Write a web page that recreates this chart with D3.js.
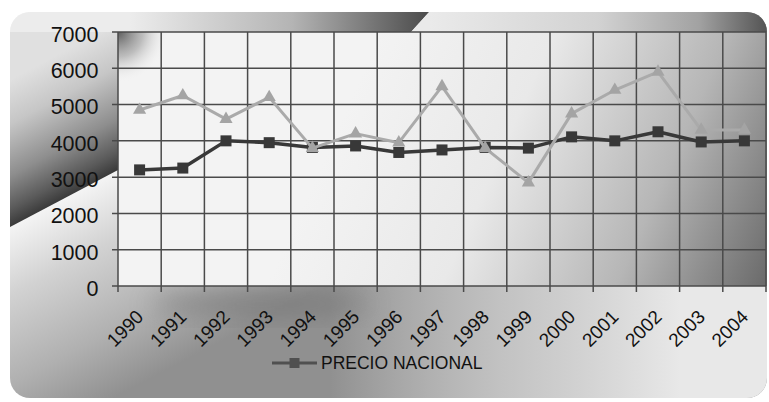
<!DOCTYPE html>
<html>
<head>
<meta charset="utf-8">
<script src="https://cdn.jsdelivr.net/npm/d3@7"></script>
<style>
  html, body { margin: 0; padding: 0; background: #fff; }
  svg { display: block; }
</style>
</head>
<body>
<script>
// Data
const years = ["1990", "1991", "1992", "1993", "1994", "1995", "1996", "1997",
  "1998", "1999", "2000", "2001", "2002", "2003", "2004"];
const precioNacional = [3200, 3250, 4000, 3950, 3820, 3860, 3680, 3750,
  3820, 3800, 4110, 4000, 4250, 3970, 4000];
const otraSerie = [4850, 5250, 4600, 5200, 3800, 4200, 3950, 5500,
  3800, 2850, 4750, 5400, 5900, 4300, 4300];
const yTicks = [0, 1000, 2000, 3000, 4000, 5000, 6000, 7000];
const legendLabel = "PRECIO NACIONAL";

const width = 769;
const height = 402;
const plot = { left: 118, right: 766, top: 32, bottom: 286 };
const frame = { x: 10, y: 12, w: 757, h: 386 };
const font = "'Liberation Sans', Arial, sans-serif";

const xScale = d3.scaleBand().domain(years).range([plot.left, plot.right]).padding(0);
const yScale = d3.scaleLinear().domain([0, 7000]).range([plot.bottom, plot.top]);

const svg = d3.select("body").append("svg")
  .attr("width", width)
  .attr("height", height);

const defs = svg.append("defs");

// helper for gradients: stops are [offset, colour, opacity]
function grad(id, x1, y1, x2, y2, stops) {
  defs.append("linearGradient").attr("id", id)
    .attr("gradientUnits", "userSpaceOnUse")
    .attr("x1", x1).attr("y1", y1).attr("x2", x2).attr("y2", y2)
    .selectAll("stop").data(stops).join("stop")
    .attr("offset", (d) => d[0]).attr("stop-color", (d) => d[1])
    .attr("stop-opacity", (d) => (d[2] === undefined ? 1 : d[2]));
}

defs.append("clipPath").attr("id", "frameClip")
  .append("rect")
  .attr("x", frame.x).attr("y", frame.y).attr("width", frame.w).attr("height", frame.h).attr("rx", 20);

defs.append("filter").attr("id", "blur")
  .attr("x", "-50%").attr("y", "-50%").attr("width", "200%").attr("height", "200%")
  .append("feGaussianBlur").attr("stdDeviation", 12);

grad("curlLight", 64, 198.5, 157, 375,
  [[0, "#f4f4f4"], [0.3, "#d2d2d2"], [0.7, "#b0b0b0"], [1, "#909090"]]);
grad("lighten", 330, 0, 680, 0,
  [[0, "#e6e6e6", 0], [0.5, "#d4d4d4", 0.75], [1, "#e8e8e8", 1]]);
grad("curlDark", 64, 198.5, 3, 83.6,
  [[0, "#3a3a3a"], [0.12, "#5a5a5a"], [0.35, "#8e8e8e"], [0.7, "#c6c6c6"], [1, "#e0e0e0"]]);
grad("topLeft", 130, 0, 425, 0,
  [[0, "#ececec"], [0.55, "#b4b4b4"], [1, "#4e4e4e"]]);
grad("topRight", 430, 0, 766, 0,
  [[0, "#eaeaea"], [0.5, "#d2d2d2"], [0.8, "#a2a2a2"], [1, "#555555"]]);
grad("plotGrad", 350, 100, 766, 286,
  [[0, "#f3f3f3"], [0.35, "#e9e9e9"], [0.7, "#b6b6b6"], [1, "#6a6a6a"]]);

const cornerGrad = defs.append("radialGradient").attr("id", "cornerGrad")
  .attr("gradientUnits", "userSpaceOnUse")
  .attr("cx", plot.left).attr("cy", plot.top).attr("r", 50);
cornerGrad.selectAll("stop")
  .data([[0, "#555", 0.95], [0.5, "#999", 0.6], [1, "#f3f3f3", 0]])
  .join("stop").attr("offset", (d) => d[0]).attr("stop-color", (d) => d[1]).attr("stop-opacity", (d) => d[2]);

// Background panels
const bg = svg.append("g").attr("clip-path", "url(#frameClip)");

bg.append("rect")
  .attr("x", 0).attr("y", 0).attr("width", width).attr("height", height)
  .attr("fill", "url(#curlLight)");

bg.append("rect")
  .attr("x", plot.left).attr("y", plot.bottom).attr("width", width - plot.left).attr("height", height - plot.bottom)
  .attr("fill", "url(#lighten)");

bg.append("ellipse")
  .attr("cx", 260).attr("cy", 304).attr("rx", 110).attr("ry", 12)
  .attr("fill", "#707070").attr("opacity", 0.6).attr("filter", "url(#blur)");

bg.append("path")
  .attr("d", "M0,32 L118,32 L118,170 L10,227 L0,232 Z")
  .attr("fill", "url(#curlDark)");

bg.append("path")
  .attr("d", "M0,0 L440,0 L411,32 L0,32 Z")
  .attr("fill", "url(#topLeft)");

bg.append("path")
  .attr("d", "M440,0 L769,0 L769,32 L411,32 Z")
  .attr("fill", "url(#topRight)");

// Plot area
svg.append("rect")
  .attr("x", plot.left).attr("y", plot.top)
  .attr("width", plot.right - plot.left).attr("height", plot.bottom - plot.top)
  .attr("fill", "url(#plotGrad)");

svg.append("rect")
  .attr("x", plot.left).attr("y", plot.top)
  .attr("width", 50).attr("height", 50)
  .attr("fill", "url(#cornerGrad)");

// Horizontal gridlines + tick marks
svg.append("g").selectAll("line").data(yTicks).join("line")
  .attr("x1", plot.left - 6).attr("x2", plot.right)
  .attr("y1", (d) => yScale(d)).attr("y2", (d) => yScale(d))
  .attr("stroke", "#4a4a4a").attr("stroke-width", 1.5);

// Vertical gridlines at category boundaries
const bounds = years.map((d) => xScale(d)).concat([xScale.range()[1]]);
svg.append("g").selectAll("line").data(bounds).join("line")
  .attr("x1", (d) => d).attr("x2", (d) => d)
  .attr("y1", plot.top).attr("y2", plot.bottom + 6)
  .attr("stroke", "#4a4a4a").attr("stroke-width", 1.5);

// Y labels
svg.append("g").selectAll("text").data(yTicks).join("text")
  .attr("x", 98.5).attr("y", (d) => yScale(d))
  .attr("dy", "0.46em")
  .attr("text-anchor", "end")
  .attr("font-family", font).attr("font-size", "21.5px")
  .attr("fill", "#111")
  .text((d) => d);

// X labels
svg.append("g").selectAll("text").data(years).join("text")
  .attr("transform", (d) => `translate(${xScale(d) + xScale.bandwidth() / 2 + 5}, 318) rotate(-45)`)
  .attr("text-anchor", "end")
  .attr("font-family", font).attr("font-size", "19px")
  .attr("fill", "#111")
  .text((d) => d);

const cx = (i) => xScale(years[i]) + xScale.bandwidth() / 2;
const line = d3.line().x((d, i) => cx(i)).y((d) => yScale(d));

// Precio nacional (dark squares)
svg.append("path")
  .attr("d", line(precioNacional))
  .attr("fill", "none").attr("stroke", "#383838").attr("stroke-width", 3.5)
  .attr("stroke-linejoin", "round");
svg.append("g").selectAll("rect").data(precioNacional).join("rect")
  .attr("x", (d, i) => cx(i) - 5.5).attr("y", (d) => yScale(d) - 5.5)
  .attr("width", 11).attr("height", 11)
  .attr("fill", "#383838");

// Second series (light triangles)
svg.append("path")
  .attr("d", line(otraSerie))
  .attr("fill", "none").attr("stroke", "#aaaaaa").attr("stroke-width", 3)
  .attr("stroke-linejoin", "round");
svg.append("g").selectAll("path").data(otraSerie).join("path")
  .attr("d", d3.symbol(d3.symbolTriangle).size(75))
  .attr("transform", (d, i) => `translate(${cx(i)}, ${yScale(d)})`)
  .attr("fill", "#a4a4a4");

// Legend
const legend = svg.append("g").attr("transform", "translate(272, 363)");
legend.append("line")
  .attr("x1", 0).attr("x2", 45).attr("y1", 0).attr("y2", 0)
  .attr("stroke", "#505050").attr("stroke-width", 3);
legend.append("rect")
  .attr("x", 17.5).attr("y", -5).attr("width", 10).attr("height", 10)
  .attr("fill", "#505050");
legend.append("text")
  .attr("x", 49).attr("y", 0).attr("dy", "0.36em")
  .attr("font-family", font).attr("font-size", "17.5px")
  .attr("fill", "#111")
  .text(legendLabel);
</script>
</body>
</html>
